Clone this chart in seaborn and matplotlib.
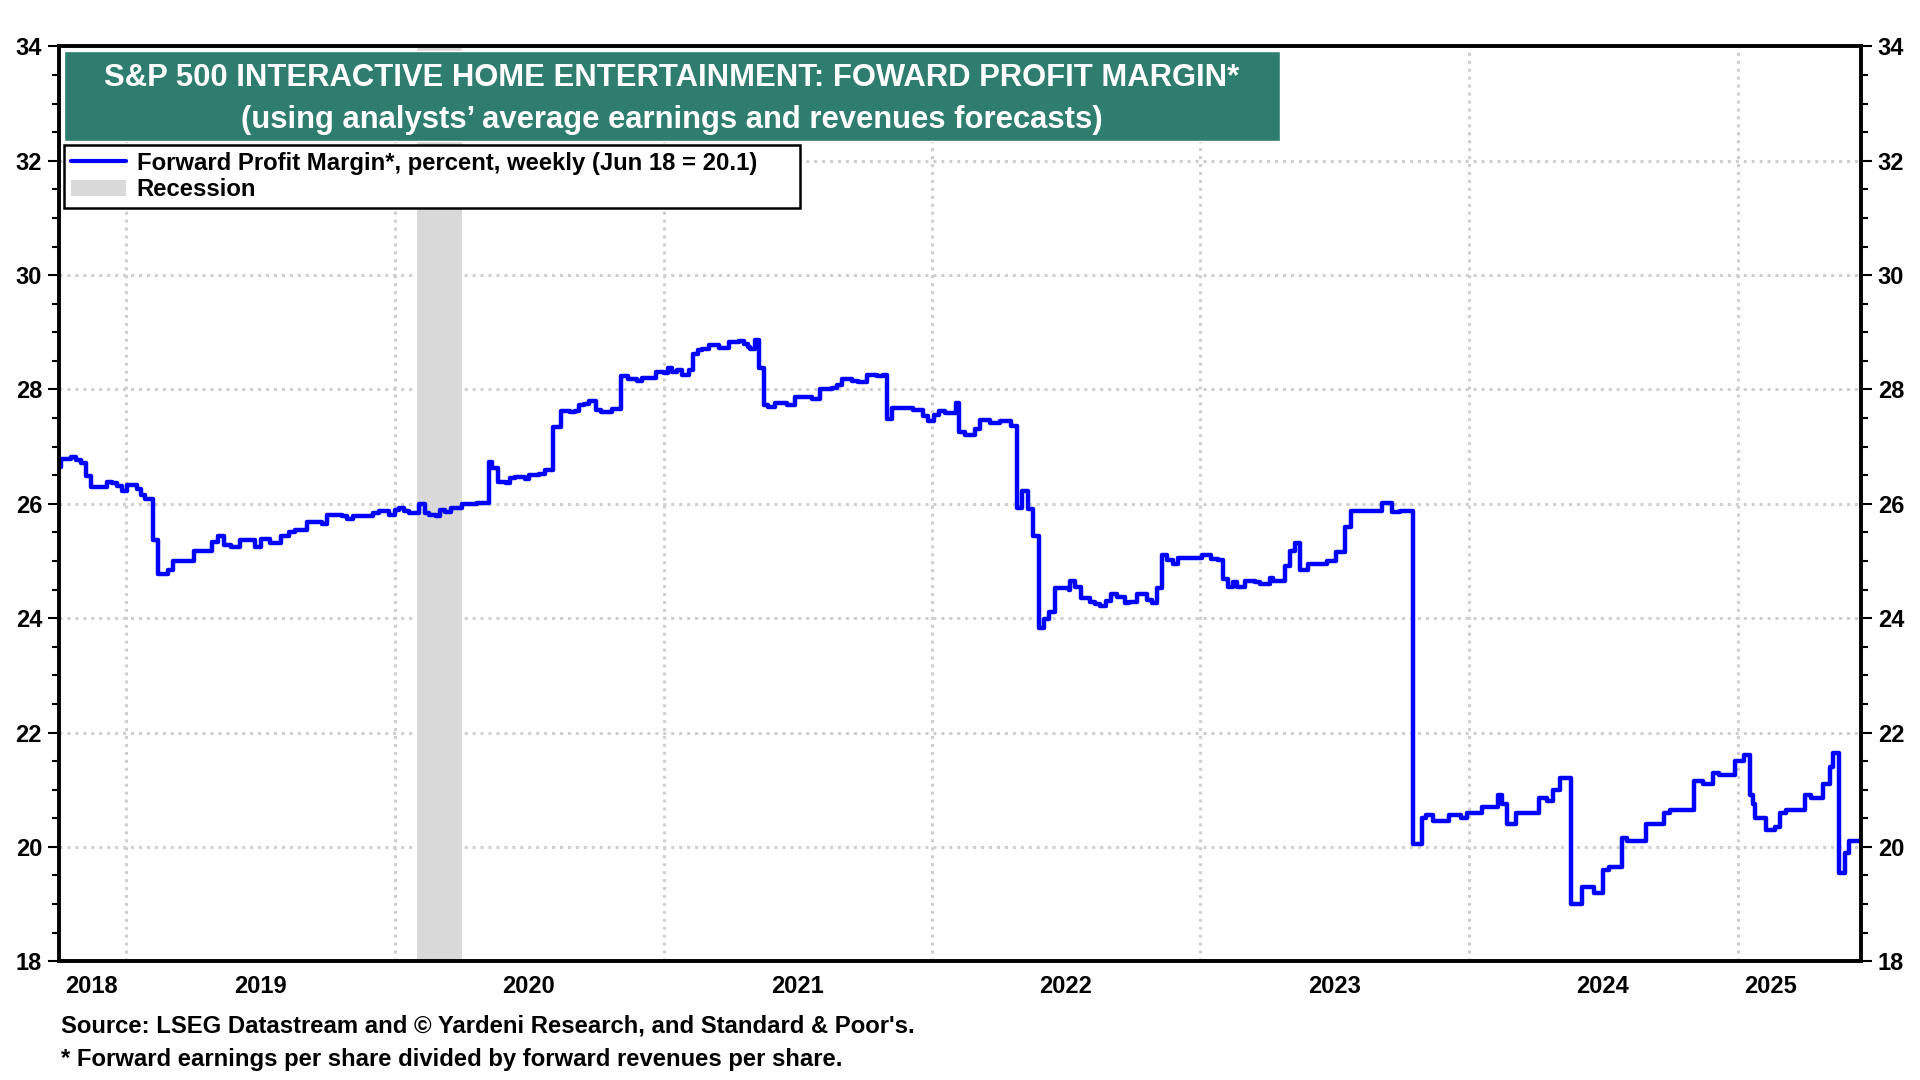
import matplotlib
matplotlib.use("Agg")
import matplotlib.pyplot as plt
import matplotlib.dates as mdates
from matplotlib.lines import Line2D
from matplotlib.patches import Patch, Rectangle
import seaborn as sns
import pandas as pd

# weekly forward profit margin (change points, step series)
week_dates = [
    "2018-10-01", "2018-10-04", "2018-10-18", "2018-10-25", "2018-10-31", "2018-11-07",
    "2018-11-14", "2018-12-05", "2018-12-13", "2018-12-19", "2018-12-26", "2019-01-02",
    "2019-01-15", "2019-01-21", "2019-01-27", "2019-02-06", "2019-02-13", "2019-02-27",
    "2019-03-06", "2019-04-03", "2019-04-28", "2019-05-05", "2019-05-14", "2019-05-23",
    "2019-06-04", "2019-06-25", "2019-07-03", "2019-07-16", "2019-07-30", "2019-08-10",
    "2019-08-19", "2019-09-04", "2019-09-24", "2019-10-01", "2019-10-21", "2019-10-28",
    "2019-11-05", "2019-12-02", "2019-12-11", "2019-12-24", "2020-01-01", "2020-01-07",
    "2020-01-14", "2020-01-20", "2020-02-03", "2020-02-11", "2020-02-17", "2020-02-26",
    "2020-03-03", "2020-03-09", "2020-03-18", "2020-04-01", "2020-04-22", "2020-05-08",
    "2020-05-12", "2020-05-20", "2020-05-31", "2020-06-06", "2020-06-12", "2020-06-26",
    "2020-07-02", "2020-07-15", "2020-07-23", "2020-08-04", "2020-08-14", "2020-08-26",
    "2020-09-02", "2020-09-08", "2020-09-14", "2020-09-21", "2020-10-01", "2020-10-08",
    "2020-10-23", "2020-11-04", "2020-11-13", "2020-11-25", "2020-12-02", "2020-12-22",
    "2021-01-01", "2021-01-07", "2021-01-12", "2021-01-19", "2021-01-26", "2021-02-04",
    "2021-02-10", "2021-02-16", "2021-02-22", "2021-03-03", "2021-03-17", "2021-03-31",
    "2021-04-13", "2021-04-20", "2021-04-25", "2021-04-29", "2021-05-05", "2021-05-11",
    "2021-05-18", "2021-05-23", "2021-06-02", "2021-06-18", "2021-06-29", "2021-07-22",
    "2021-08-02", "2021-08-18", "2021-08-25", "2021-09-01", "2021-09-14", "2021-09-22",
    "2021-10-05", "2021-10-18", "2021-10-26", "2021-11-01", "2021-11-08", "2021-12-06",
    "2021-12-19", "2021-12-26", "2022-01-04", "2022-01-10", "2022-01-19", "2022-02-02",
    "2022-02-07", "2022-02-15", "2022-02-28", "2022-03-07", "2022-03-21", "2022-04-04",
    "2022-04-19", "2022-04-26", "2022-05-04", "2022-05-12", "2022-05-18", "2022-05-26",
    "2022-06-02", "2022-06-09", "2022-06-17", "2022-07-06", "2022-07-08", "2022-07-15",
    "2022-07-22", "2022-08-04", "2022-08-11", "2022-08-18", "2022-08-25", "2022-09-01",
    "2022-09-10", "2022-09-21", "2022-09-26", "2022-10-07", "2022-10-21", "2022-10-27",
    "2022-11-03", "2022-11-10", "2022-11-16", "2022-11-25", "2022-12-01", "2023-01-03",
    "2023-01-16", "2023-01-25", "2023-02-01", "2023-02-08", "2023-02-15", "2023-02-20",
    "2023-03-03", "2023-03-16", "2023-03-23", "2023-04-06", "2023-04-10", "2023-04-26",
    "2023-05-03", "2023-05-10", "2023-05-17", "2023-05-28", "2023-06-22", "2023-07-05",
    "2023-07-17", "2023-07-25", "2023-09-05", "2023-09-18", "2023-09-30", "2023-10-17",
    "2023-10-29", "2023-11-04", "2023-11-14", "2023-12-05", "2023-12-21", "2023-12-30",
    "2024-01-19", "2024-02-10", "2024-02-15", "2024-02-22", "2024-03-06", "2024-04-05",
    "2024-04-17", "2024-04-25", "2024-05-04", "2024-05-19", "2024-06-03", "2024-06-20",
    "2024-07-02", "2024-07-10", "2024-07-27", "2024-08-04", "2024-08-29", "2024-09-23",
    "2024-10-01", "2024-11-03", "2024-11-15", "2024-11-28", "2024-12-07", "2024-12-28",
    "2025-01-09", "2025-01-17", "2025-01-22", "2025-01-25", "2025-02-08", "2025-02-20",
    "2025-02-28", "2025-03-08", "2025-04-02", "2025-04-10", "2025-04-27", "2025-05-06",
    "2025-05-10", "2025-05-19", "2025-05-27", "2025-06-01", "2025-06-18",
]
margin = [
    26.65, 26.78, 26.82, 26.76, 26.71, 26.49,
    26.30, 26.39, 26.36, 26.32, 26.23, 26.33,
    26.26, 26.16, 26.08, 25.37, 24.78, 24.85,
    25.00, 25.18, 25.34, 25.43, 25.28, 25.25,
    25.36, 25.25, 25.39, 25.31, 25.44, 25.50,
    25.54, 25.68, 25.65, 25.81, 25.78, 25.73,
    25.78, 25.84, 25.87, 25.80, 25.90, 25.92,
    25.87, 25.84, 26.00, 25.84, 25.81, 25.78,
    25.90, 25.86, 25.92, 26.00, 26.02, 26.74,
    26.63, 26.39, 26.36, 26.45, 26.47, 26.43,
    26.50, 26.53, 26.60, 27.34, 27.63, 27.60,
    27.63, 27.72, 27.75, 27.79, 27.64, 27.61,
    27.65, 28.23, 28.19, 28.15, 28.20, 28.30,
    28.28, 28.37, 28.30, 28.34, 28.25, 28.34,
    28.62, 28.69, 28.71, 28.78, 28.73, 28.83,
    28.85, 28.80, 28.75, 28.71, 28.86, 28.37,
    27.72, 27.69, 27.76, 27.73, 27.87, 27.84,
    28.00, 28.03, 28.08, 28.19, 28.14, 28.13,
    28.26, 28.23, 28.26, 27.49, 27.68, 27.64,
    27.53, 27.44, 27.56, 27.63, 27.58, 27.77,
    27.25, 27.20, 27.30, 27.47, 27.42, 27.44,
    27.36, 25.92, 26.22, 25.91, 25.44, 23.82,
    23.98, 24.10, 24.52, 24.49, 24.65, 24.55,
    24.36, 24.29, 24.25, 24.22, 24.30, 24.42,
    24.37, 24.26, 24.29, 24.42, 24.32, 24.26,
    24.52, 25.11, 25.02, 24.94, 25.05, 25.11,
    25.04, 25.02, 24.68, 24.55, 24.64, 24.55,
    24.65, 24.63, 24.60, 24.70, 24.65, 24.91,
    25.18, 25.31, 24.85, 24.95, 25.00, 25.15,
    25.60, 25.88, 26.02, 25.85, 25.88, 20.05,
    20.50, 20.55, 20.45, 20.55, 20.50, 20.60,
    20.70, 20.90, 20.75, 20.40, 20.60, 20.85,
    20.80, 21.00, 21.20, 19.00, 19.30, 19.20,
    19.60, 19.65, 20.15, 20.10, 20.40, 20.60,
    20.65, 21.15, 21.10, 21.30, 21.25, 21.50,
    21.60, 20.90, 20.75, 20.50, 20.30, 20.35,
    20.60, 20.65, 20.90, 20.85, 21.10, 21.40,
    21.65, 19.55, 19.90, 20.10, 20.10,
]

year_labels = ["2018", "2019", "2020", "2021", "2022", "2023", "2024", "2025"]
year_label_pos = ["2018-11-15", "2019-07-02", "2020-07-01", "2021-07-02", "2022-07-02",
                  "2023-07-02", "2024-07-01", "2025-02-15"]
recession_start, recession_end = "2020-02-01", "2020-04-01"

title1 = "S&P 500 INTERACTIVE HOME ENTERTAINMENT: FOWARD PROFIT MARGIN*"
title2 = "(using analysts\u2019 average earnings and revenues forecasts)"
series_label = "Forward Profit Margin*, percent, weekly (Jun 18 = 20.1)"
source_note = "Source: LSEG Datastream and \u00a9 Yardeni Research, and Standard & Poor's."
star_note = "* Forward earnings per share divided by forward revenues per share."

sns.set_theme(style="white")
plt.rcParams['font.family'] = ['Liberation Sans', 'DejaVu Sans']
plt.rcParams['font.weight'] = 'bold'
plt.rcParams['text.color'] = 'black'
plt.rcParams['xtick.color'] = 'black'
plt.rcParams['ytick.color'] = 'black'
plt.rcParams['axes.labelcolor'] = 'black'

df = pd.DataFrame({"date": pd.to_datetime(week_dates), "margin": margin})

fig = plt.figure(figsize=(19.2, 10.8), dpi=100)
ax = fig.add_axes([0.0306, 0.110, 0.9388, 0.847])

ax.axvspan(pd.Timestamp(recession_start), pd.Timestamp(recession_end),
           color="#d9d9d9", lw=0, zorder=1)
sns.lineplot(data=df, x="date", y="margin", ax=ax, color="#0000ff", lw=3.2,
             drawstyle="steps-post", estimator=None, zorder=3)

ax.set_xlim(pd.Timestamp("2018-10-01"), pd.Timestamp("2025-06-18"))
ax.set_ylim(18, 34)
ax.set_xlabel("")
ax.set_ylabel("")

# y axis on both sides
ax.set_yticks(range(18, 35, 2))
ax.set_yticks([v / 2 for v in range(36, 69)], minor=True)
ax.yaxis.set_ticks_position("both")
ax.tick_params(axis="y", which="both", labelleft=True, labelright=True,
               direction="out", labelsize=17, width=1.5, color="black", labelcolor="black")
ax.tick_params(axis="y", which="major", length=8, pad=4)
ax.tick_params(axis="y", which="minor", length=5)

# x axis: year boundaries + centered year labels
ax.xaxis.set_major_locator(mdates.YearLocator())
ax.xaxis.set_major_formatter(plt.NullFormatter())
ax.set_xticks(pd.to_datetime(year_label_pos), minor=True)
ax.set_xticklabels(year_labels, minor=True)
ax.tick_params(axis="x", which="major", length=8, width=1.5, direction="out", color="black")
ax.tick_params(axis="x", which="minor", length=0, labelsize=17, pad=10, labelcolor="black")

ax.grid(True, which="major", color="#cfcfcf", linestyle=(0, (1, 1.6)), linewidth=2.2)
ax.set_axisbelow(True)

for s in ax.spines.values():
    s.set_color("black")
    s.set_linewidth(2.8)
    s.set_zorder(5)

# title box
fig.add_artist(Rectangle((0.0332, 0.8696), 0.6333, 0.0828, transform=fig.transFigure,
                         facecolor="#2e7d6f", edgecolor="white", lw=1, zorder=5))
fig.text(0.3498, 0.9280, title1, ha="center", va="center", color="white",
         fontsize=22.3, weight="bold", zorder=6)
fig.text(0.3498, 0.8890, title2, ha="center", va="center", color="white",
         fontsize=22.3, weight="bold", zorder=6)

handles = [Line2D([0], [0], color="#0000ff", lw=3), Patch(facecolor="#d9d9d9", edgecolor="none")]
leg = ax.legend(handles, [series_label, "Recession"], loc="upper left",
                bbox_to_anchor=(0.0332, 0.8073, 0.3833, 0.0589), bbox_transform=fig.transFigure,
                mode="expand", frameon=True, fancybox=False, framealpha=1, edgecolor="black",
                borderpad=0.3, labelspacing=0.15, handlelength=2.3, handletextpad=0.45,
                borderaxespad=0, prop={"weight": "bold", "size": 17.2})
leg.get_frame().set_linewidth(1.8)
leg.set_zorder(6)
for t in leg.get_texts():
    t.set_color("black")

fig.text(0.032, 0.0499, source_note, ha="left", va="center", fontsize=17.2, weight="bold")
fig.text(0.032, 0.0193, star_note, ha="left", va="center", fontsize=17.2, weight="bold")

fig.savefig("out.png", dpi=100, facecolor="white")
